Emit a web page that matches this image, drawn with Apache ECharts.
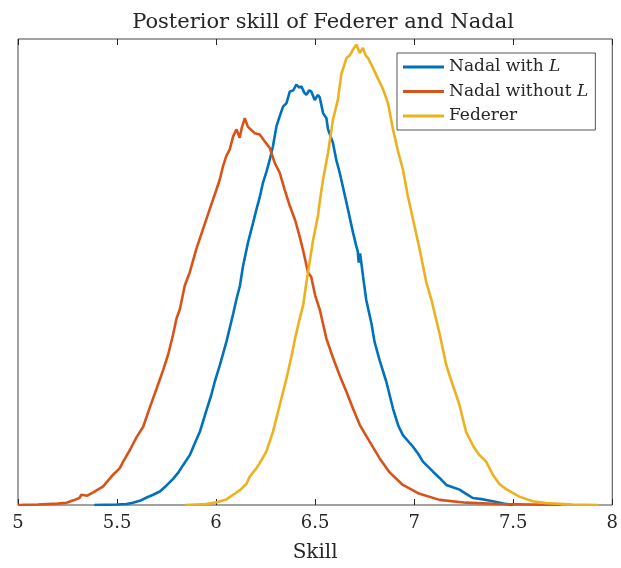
<!DOCTYPE html>
<html>
<head>
<meta charset="utf-8">
<script src="https://cdn.jsdelivr.net/npm/echarts@6/dist/echarts.min.js"></script>
<style>
  html, body { margin: 0; padding: 0; background: #fff; }
  #main { width: 621px; height: 568px; }
</style>
</head>
<body>
<div id="main"></div>
<script>
// values (density, scaled so the top of the box is 1)
var xTicks = [5, 5.5, 6, 6.5, 7, 7.5, 8];

var noLX = [5.00, 5.10, 5.20, 5.245, 5.28, 5.31, 5.32, 5.35, 5.38, 5.43, 5.48, 5.514, 5.531, 5.565, 5.598, 5.632,
  5.666, 5.70, 5.733, 5.758, 5.783, 5.80, 5.817, 5.842, 5.867, 5.90, 5.934, 5.968, 6.002, 6.019, 6.035,
  6.052, 6.069, 6.086, 6.103, 6.119, 6.13, 6.145, 6.16, 6.17, 6.195, 6.22, 6.246, 6.271, 6.296, 6.321,
  6.346, 6.372, 6.40, 6.422, 6.44, 6.464, 6.48, 6.50, 6.523, 6.557, 6.59, 6.624, 6.658, 6.691, 6.725,
  6.775, 6.826, 6.876, 6.943, 7.027, 7.128, 7.262, 7.43, 7.60, 7.74];
var noLY = [0, 0.001, 0.003, 0.005, 0.010, 0.015, 0.022, 0.020, 0.027, 0.040, 0.065, 0.079, 0.093, 0.118, 0.145, 0.168,
  0.21, 0.25, 0.29, 0.323, 0.366, 0.40, 0.42, 0.471, 0.499, 0.549, 0.592, 0.635, 0.677, 0.699, 0.727,
  0.749, 0.763, 0.791, 0.806, 0.788, 0.81, 0.83, 0.812, 0.809, 0.798, 0.795, 0.78, 0.766, 0.734, 0.713,
  0.677, 0.642, 0.61, 0.576, 0.545, 0.499, 0.49, 0.45, 0.42, 0.357, 0.316, 0.278, 0.243, 0.207, 0.172,
  0.136, 0.10, 0.07, 0.043, 0.024, 0.011, 0.005, 0.002, 0.001, 0];

var withLX = [5.385, 5.50, 5.548, 5.58, 5.615, 5.65, 5.682, 5.716, 5.75, 5.783, 5.81, 5.834, 5.867, 5.89, 5.918,
  5.952, 5.975, 5.993, 6.019, 6.052, 6.086, 6.103, 6.12, 6.136, 6.161, 6.187, 6.204, 6.22, 6.237, 6.254,
  6.271, 6.287, 6.305, 6.321, 6.338, 6.355, 6.372, 6.39, 6.405, 6.42, 6.431, 6.445, 6.456, 6.47, 6.481,
  6.498, 6.514, 6.523, 6.54, 6.557, 6.565, 6.59, 6.607, 6.624, 6.658, 6.691, 6.708, 6.715, 6.72, 6.727, 6.742,
  6.758, 6.784, 6.80, 6.826, 6.859, 6.893, 6.92, 6.943, 6.994, 7.02, 7.044, 7.094, 7.128, 7.162, 7.195, 7.229,
  7.262, 7.296, 7.35, 7.397, 7.45, 7.50];
var withLY = [0, 0.001, 0.002, 0.005, 0.009, 0.016, 0.022, 0.029, 0.042, 0.056, 0.07, 0.086, 0.107, 0.13, 0.157,
  0.204, 0.235, 0.264, 0.30, 0.35, 0.41, 0.442, 0.47, 0.513, 0.563, 0.606, 0.635, 0.66, 0.692, 0.715,
  0.741, 0.77, 0.813, 0.834, 0.855, 0.862, 0.887, 0.89, 0.902, 0.896, 0.898, 0.885, 0.88, 0.89, 0.887,
  0.869, 0.88, 0.875, 0.841, 0.83, 0.806, 0.777, 0.74, 0.713, 0.649, 0.585, 0.555, 0.545, 0.52, 0.54, 0.49,
  0.44, 0.39, 0.35, 0.31, 0.265, 0.207, 0.17, 0.15, 0.125, 0.11, 0.093, 0.072, 0.058, 0.043, 0.038, 0.033,
  0.024, 0.015, 0.012, 0.008, 0.003, 0];

var fedX = [5.845, 5.95, 6.002, 6.052, 6.086, 6.12, 6.153, 6.17, 6.204, 6.23, 6.254, 6.287, 6.321, 6.355, 6.38,
  6.40, 6.422, 6.44, 6.456, 6.464, 6.489, 6.514, 6.523, 6.54, 6.565, 6.59, 6.615, 6.632, 6.658, 6.675,
  6.691, 6.708, 6.725, 6.741, 6.755, 6.767, 6.792, 6.817, 6.842, 6.868, 6.893, 6.918, 6.943, 6.968, 6.994,
  7.027, 7.061, 7.086, 7.128, 7.162, 7.195, 7.212, 7.229, 7.262, 7.30, 7.33, 7.363, 7.397, 7.43, 7.464,
  7.531, 7.598, 7.666, 7.80, 7.93];
var fedY = [0, 0.002, 0.006, 0.012, 0.022, 0.032, 0.045, 0.061, 0.079, 0.097, 0.115, 0.157, 0.214, 0.271, 0.318,
  0.36, 0.40, 0.43, 0.478, 0.499, 0.567, 0.62, 0.65, 0.699, 0.756, 0.827, 0.87, 0.924, 0.959, 0.965,
  0.977, 0.988, 0.97, 0.981, 0.965, 0.959, 0.938, 0.915, 0.893, 0.862, 0.806, 0.76, 0.72, 0.663, 0.613,
  0.55, 0.478, 0.442, 0.368, 0.30, 0.257, 0.236, 0.214, 0.157, 0.125, 0.107, 0.093, 0.065, 0.045, 0.034,
  0.018, 0.008, 0.004, 0.001, 0];

var seriesNames = ['Nadal with L', 'Nadal without L', 'Federer'];
var colors = ['#0072BD', '#D95319', '#EDB120'];

function pairs(xs, ys) {
  return xs.map(function (x, i) { return [x, ys[i]]; });
}

var myChart = echarts.init(document.getElementById('main'));
var serif = 'DejaVu Serif';
var ink = '#262626';

var option = {
  animation: false,
  color: colors,
  title: {
    text: 'Posterior skill of Federer and Nadal',
    left: 318,
    textAlign: 'center',
    top: 7,
    textStyle: { fontFamily: serif, fontWeight: 'normal', fontSize: 21, color: ink }
  },
  grid: {
    left: 18, right: 8, top: 39, bottom: 61,
    show: true, borderColor: '#444', borderWidth: 1
  },
  legend: {
    left: 397, top: 53,
    orient: 'vertical',
    icon: 'rect',
    itemWidth: 41, itemHeight: 3,
    itemGap: 5.5,
    padding: [4.5, 7, 4.5, 6],
    borderColor: '#555', borderWidth: 1,
    backgroundColor: '#fff',
    data: seriesNames,
    formatter: function (name) {
      return name.replace(/ L$/, ' {i|L}');
    },
    textStyle: {
      fontFamily: serif, fontSize: 17, color: ink, lineHeight: 19,
      rich: { i: { fontFamily: serif, fontStyle: 'italic', fontSize: 17, color: ink } }
    }
  },
  xAxis: [{
    type: 'value', min: 5, max: 8, interval: 0.5,
    name: 'Skill', nameLocation: 'middle', nameGap: 38,
    nameTextStyle: { fontFamily: serif, fontSize: 20, color: ink },
    axisLine: { show: false },
    axisTick: { show: true, inside: true, length: 6, lineStyle: { color: ink } },
    axisLabel: { fontFamily: serif, fontSize: 18, color: ink, margin: 9 },
    splitLine: { show: false }
  }, {
    type: 'value', min: 5, max: 8, interval: 0.5, position: 'top',
    axisLine: { show: false },
    axisTick: { show: true, inside: true, length: 6, lineStyle: { color: ink } },
    axisLabel: { show: false },
    splitLine: { show: false }
  }],
  yAxis: {
    type: 'value', min: 0, max: 1,
    axisLine: { show: false }, axisTick: { show: false },
    axisLabel: { show: false }, splitLine: { show: false }
  },
  series: [
    { name: seriesNames[0], type: 'line', data: pairs(withLX, withLY) },
    { name: seriesNames[1], type: 'line', data: pairs(noLX, noLY) },
    { name: seriesNames[2], type: 'line', data: pairs(fedX, fedY) }
  ].map(function (s, i) {
    s.showSymbol = false;
    s.symbol = 'none';
    s.lineStyle = { width: 2.6, color: colors[i] };
    s.z = 2 + i;
    return s;
  })
};

myChart.setOption(option);
</script>
</body>
</html>
